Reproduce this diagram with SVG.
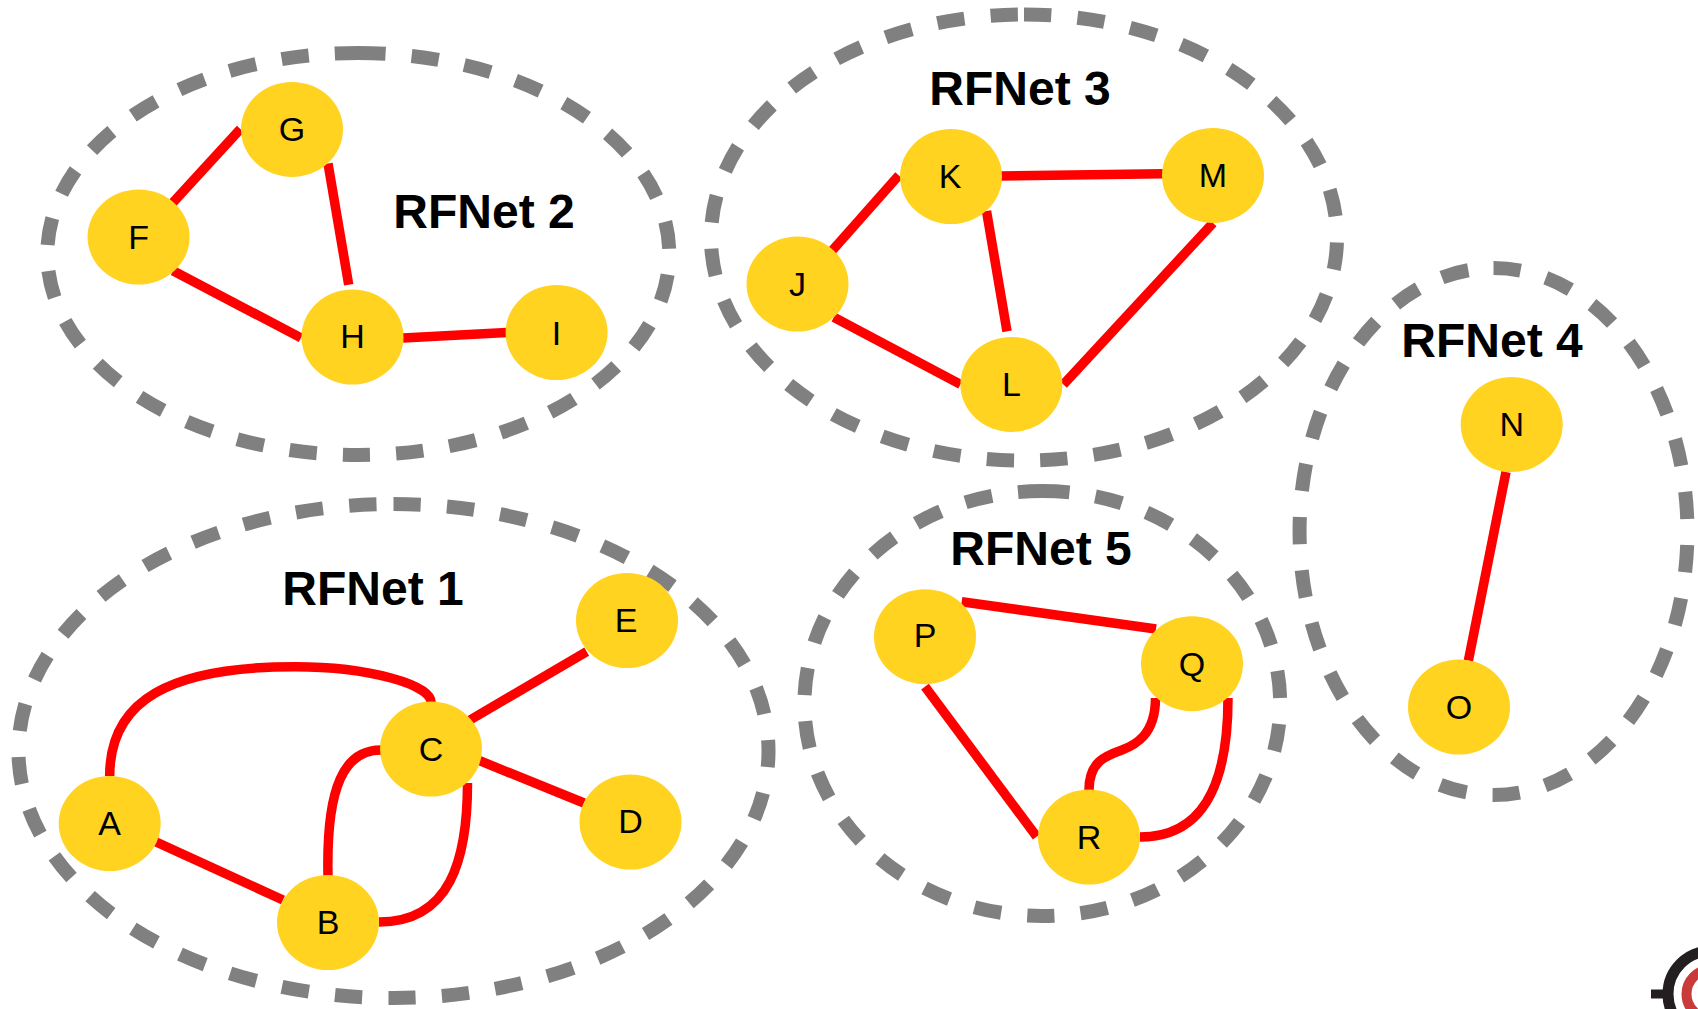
<svg xmlns="http://www.w3.org/2000/svg" width="1698" height="1009" viewBox="0 0 1698 1009">
<style>
.ring{fill:none;stroke:#808080;stroke-width:14}
.link{fill:none;stroke:#ff0000;stroke-width:9.500}
.node{fill:#ffd320}
.nt{font-family:"Liberation Sans",Arial,sans-serif;font-size:34px;fill:#000;text-anchor:middle}
.title{font-family:"Liberation Sans",Arial,sans-serif;font-size:48px;font-weight:bold;fill:#000;text-anchor:middle}
</style>
<rect width="1698" height="1009" fill="#fff"/>
<g id="rfnet1"><path class="ring" stroke-dasharray="27.3 26.3" d="M393.500 504A375 247 0 0 1 393.500 998A375 247 0 0 1 393.500 504Z"/><text class="title" x="373" y="605">RFNet 1</text></g>
<g id="rfnet2"><path class="ring" stroke-dasharray="27.3 26.130" d="M358.300 53A311 201 0 0 1 358.300 455A311 201 0 0 1 358.300 53Z"/><text class="title" x="484" y="228">RFNet 2</text></g>
<g id="rfnet3"><path class="ring" stroke-dasharray="27.3 26.300" d="M1024 14.500A313 223 0 0 1 1024 460.500A313 223 0 0 1 1024 14.500Z"/><text class="title" x="1020" y="105">RFNet 3</text></g>
<g id="rfnet4"><path class="ring" stroke-dasharray="27.3 26.240" d="M1493.500 268A194 263.500 0 0 1 1493.500 795A194 263.500 0 0 1 1493.500 268Z"/><text class="title" x="1492" y="357">RFNet 4</text></g>
<g id="rfnet5"><path class="ring" stroke-dasharray="27.3 26.200" d="M1042.300 491A238 212.500 0 0 1 1042.300 916A238 212.500 0 0 1 1042.300 491Z"/><text class="title" x="1041" y="565">RFNet 5</text></g>
<g id="connectors">
<path class="link" d="M109.700 776C109.700 700 170 666.700 295 666.700C370 666.700 431 685 431 702"/>
<path class="link" d="M381 750C345 750 326 785 328 876"/>
<path class="link" d="M467.500 783C467.500 860 450 922 379 922"/>
<path class="link" d="M155.600 841.700L283 900"/>
<path class="link" d="M470 720L586.700 651.700"/>
<path class="link" d="M479.600 760.700L584 803"/>
<path class="link" d="M961.700 601.700L1156 629"/>
<path class="link" d="M925 686.700L1036.700 836.700"/>
<path class="link" d="M1155.500 698C1155.500 735 1135 745 1122 750C1105 756 1089 762 1089 790"/>
<path class="link" d="M1228 698C1228 790 1200 837 1140 837"/>
<path class="link" d="M173 202.500L240.400 129"/>
<path class="link" d="M328 163.500L348.700 284.800"/>
<path class="link" d="M173 270.700L301 337.900"/>
<path class="link" d="M403 337.900L506.800 332.500"/>
<path class="link" d="M830.600 252.300L898.800 175.400"/>
<path class="link" d="M986.500 211L1007 331.400"/>
<path class="link" d="M833.800 317.300L960.500 384.400"/>
<path class="link" d="M1000.600 176L1163 173.800"/>
<path class="link" d="M1213 223L1063.400 384.400"/>
<path class="link" d="M1506 472L1468.400 660.600"/>
</g>
<g id="A"><ellipse class="node" cx="109.700" cy="823.500" rx="51" ry="47.500"/><text class="nt" x="109.700" y="834.500">A</text></g>
<g id="B"><ellipse class="node" cx="328" cy="922.500" rx="51" ry="47.500"/><text class="nt" x="328" y="933.500">B</text></g>
<g id="C"><ellipse class="node" cx="431" cy="749" rx="51" ry="47.500"/><text class="nt" x="431" y="761">C</text></g>
<g id="D"><ellipse class="node" cx="630.500" cy="822" rx="51" ry="47.500"/><text class="nt" x="630.500" y="833">D</text></g>
<g id="E"><ellipse class="node" cx="627" cy="620.500" rx="51" ry="47.500"/><text class="nt" x="626" y="631.500">E</text></g>
<g id="F"><ellipse class="node" cx="138.600" cy="237" rx="51" ry="47.500"/><text class="nt" x="138.600" y="249">F</text></g>
<g id="G"><ellipse class="node" cx="292" cy="129.400" rx="51" ry="47.500"/><text class="nt" x="292" y="141.400">G</text></g>
<g id="H"><ellipse class="node" cx="352.500" cy="337" rx="51" ry="47.500"/><text class="nt" x="352.500" y="348">H</text></g>
<g id="I"><ellipse class="node" cx="556.600" cy="332.500" rx="51" ry="47.500"/><text class="nt" x="556.600" y="344.500">I</text></g>
<g id="J"><ellipse class="node" cx="797.500" cy="284" rx="51" ry="47.500"/><text class="nt" x="797.500" y="296">J</text></g>
<g id="K"><ellipse class="node" cx="951" cy="176.500" rx="51" ry="47.500"/><text class="nt" x="950" y="187.500">K</text></g>
<g id="L"><ellipse class="node" cx="1011.400" cy="384.400" rx="51" ry="47.500"/><text class="nt" x="1011.400" y="396.400">L</text></g>
<g id="M"><ellipse class="node" cx="1213" cy="175.400" rx="51" ry="47.500"/><text class="nt" x="1213" y="187.400">M</text></g>
<g id="N"><ellipse class="node" cx="1511.700" cy="424.500" rx="51" ry="47.500"/><text class="nt" x="1511.700" y="435.500">N</text></g>
<g id="O"><ellipse class="node" cx="1459" cy="707" rx="51" ry="47.500"/><text class="nt" x="1459" y="719">O</text></g>
<g id="P"><ellipse class="node" cx="925" cy="636.700" rx="51" ry="47.500"/><text class="nt" x="925" y="647">P</text></g>
<g id="Q"><ellipse class="node" cx="1192" cy="663.700" rx="51" ry="47.500"/><text class="nt" x="1192" y="675.700">Q</text></g>
<g id="R"><ellipse class="node" cx="1089" cy="837" rx="51" ry="47.500"/><text class="nt" x="1089" y="849">R</text></g>
<circle cx="1711" cy="994" r="43" fill="none" stroke="#231f20" stroke-width="11"/>
<rect x="1651" y="989.500" width="20" height="9" fill="#231f20"/>
<circle cx="1711" cy="994" r="24.500" fill="none" stroke="#c93a3a" stroke-width="10"/>
</svg>
